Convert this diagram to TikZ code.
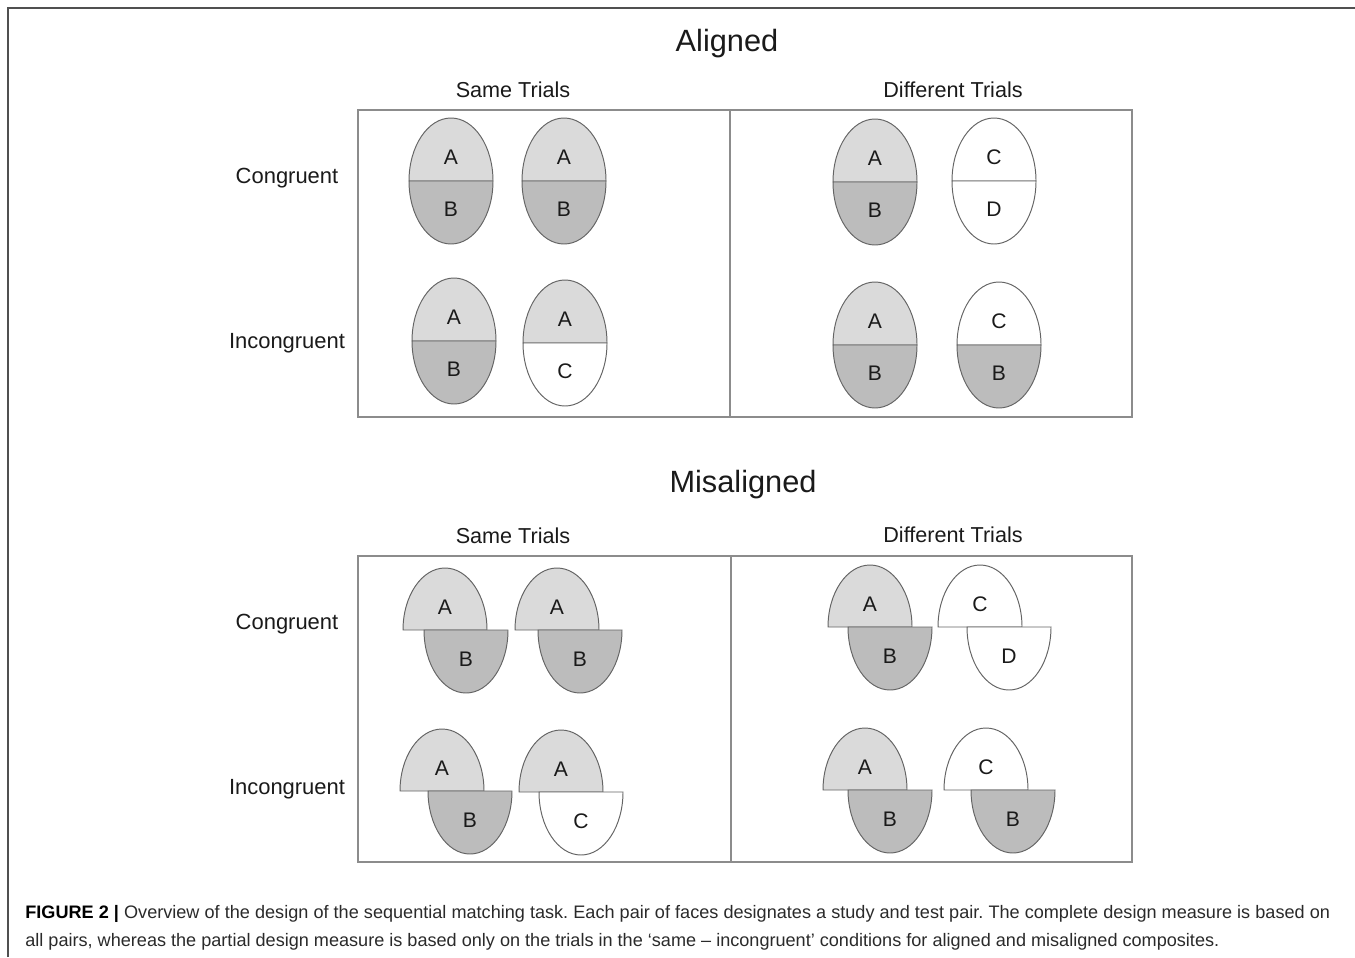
\documentclass[tikz,border=0pt]{standalone}
\usepackage{fontspec}
\setmainfont{Liberation Sans}
\usetikzlibrary{positioning}
\definecolor{facelight}{HTML}{DADADA}
\definecolor{facedark}{HTML}{BCBCBC}
\definecolor{faceline}{HTML}{646464}
\definecolor{boxline}{HTML}{8C8C8C}
\definecolor{framecol}{HTML}{505050}
\definecolor{darktext}{HTML}{1A1A1A}
\definecolor{captext}{HTML}{2A2A2A}

\begin{document}
\frenchspacing
\begin{tikzpicture}[x=0.02cm,y=-0.02cm,
      title/.style={font=\fontsize{17.5}{20}\selectfont,text=darktext},
      head/.style={font=\fontsize{12.3}{14}\selectfont,text=darktext},
      cond/.style={font=\fontsize{12.5}{14}\selectfont,text=darktext},
      letter/.style={font=\fontsize{12}{14}\selectfont,text=darktext,inner sep=0pt},
      panel/.style={draw=boxline,line width=0.7pt},
      half/.style={draw=faceline,line width=0.55pt},
      caption/.style={font=\fontsize{10.3}{15.9}\selectfont,text=captext,text width=26.1cm,
        align=justify,inner sep=0pt}]
    \useasboundingbox (0,0) rectangle (1355,957);
    \draw[framecol,line width=1.1pt] (8,957) -- (8,8) -- (1355,8);

    % aligned composites
    \node[title] (altitle) at (727,44) {Aligned};
    \node[head] (alsame) at (513,90) {Same Trials};
    \node[head] (aldiff) at (953,90) {Different Trials};
    \draw[panel] (358,110) rectangle (1132,417);
    \draw[panel] (730,110) -- (730,417);
    \node[cond] (alcon) at (287,178) {Congruent};
    \node[cond] (alinc) at (287,343) {Incongruent};
    \foreach \cx/\sy/\tf/\ta/\bf/\ba [count=\i] in {451/181/facelight/A/facedark/B,
        564/181/facelight/A/facedark/B, 875/182/facelight/A/facedark/B, 994/181/white/C/white/D,
        454/341/facelight/A/facedark/B, 565/343/facelight/A/white/C,
        875/345/facelight/A/facedark/B, 999/345/white/C/facedark/B} {
      \filldraw[half,fill=\tf] (\cx-42,\sy) arc[start angle=180,end angle=360,x radius=42,y radius=63] -- cycle;
      \filldraw[half,fill=\bf] (\cx-42,\sy) arc[start angle=180,end angle=0,x radius=42,y radius=63] -- cycle;
      \node[letter] (alt\i) at (\cx,\sy-24) {\ta};
      \node[letter] (alb\i) at (\cx,\sy+28) {\ba};
    }

    % misaligned composites
    \node[title] (mititle) at (743,485) {Misaligned};
    \node[head] (misame) at (513,536) {Same Trials};
    \node[head] (midiff) at (953,535) {Different Trials};
    \draw[panel] (358,556) rectangle (1132,862);
    \draw[panel] (731,556) -- (731,862);
    \node[cond] (micon) at (287,624) {Congruent};
    \node[cond] (miinc) at (287,789) {Incongruent};
    \foreach \cx/\sy/\fc/\ch [count=\i] in {445/630/facelight/A, 557/630/facelight/A,
        870/627/facelight/A, 980/627/white/C, 442/791/facelight/A, 561/792/facelight/A,
        865/790/facelight/A, 986/790/white/C} {
      \filldraw[half,fill=\fc] (\cx-42,\sy) arc[start angle=180,end angle=360,x radius=42,y radius=62] -- cycle;
      \node[letter] (mit\i) at (\cx,\sy-23) {\ch};
    }
    \foreach \cx/\sy/\fc/\ch [count=\i] in {466/630/facedark/B, 580/630/facedark/B,
        890/627/facedark/B, 1009/627/white/D, 470/791/facedark/B, 581/792/white/C,
        890/790/facedark/B, 1013/790/facedark/B} {
      \filldraw[half,fill=\fc] (\cx-42,\sy) arc[start angle=180,end angle=0,x radius=42,y radius=63] -- cycle;
      \node[letter] (mib\i) at (\cx,\sy+29) {\ch};
    }

    \node[caption,anchor=north west] (cap) at (25,905)
      {\textbf{\color{black}FIGURE 2 |} Overview of the design of the sequential matching task. Each pair of faces designates a study and test pair. The complete design measure is based on\linebreak
       all pairs, whereas the partial design measure is based only on the trials in the ‘same – incongruent’ conditions for aligned and misaligned composites.};
  \end{tikzpicture}
\end{document}
